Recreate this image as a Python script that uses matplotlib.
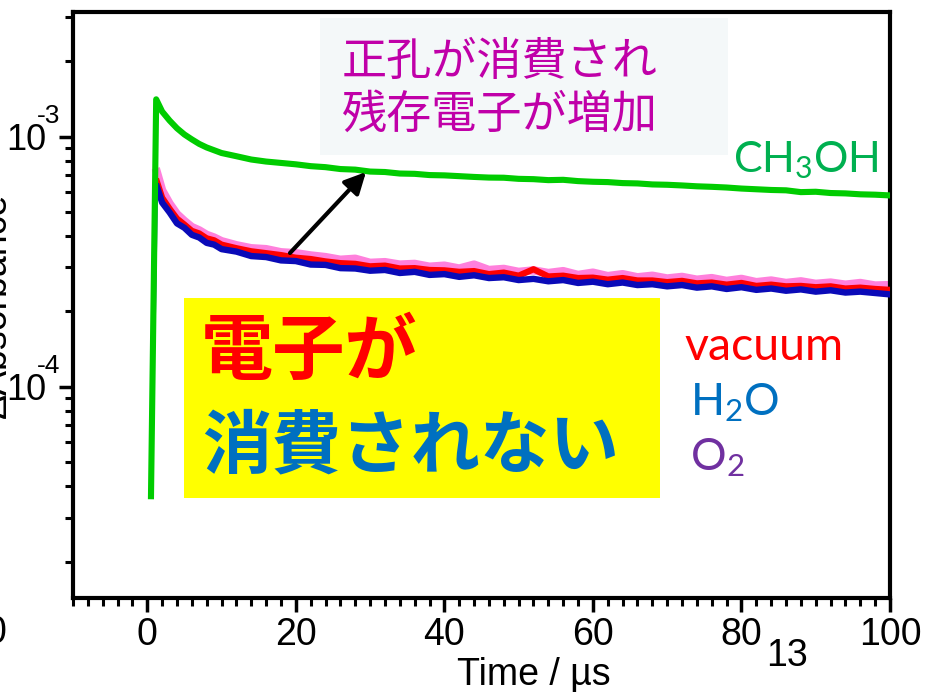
import matplotlib
matplotlib.use("Agg")
import matplotlib.pyplot as plt
from matplotlib.patches import Rectangle
from matplotlib.ticker import MultipleLocator, FixedLocator, NullFormatter, LogLocator
from matplotlib.transforms import blended_transform_factory, ScaledTranslation
import numpy as np

# ---------------- data (absorbance in units of 1e-4) ----------------
t_ch3oh = [0.5, 1.2, 2, 3, 4, 5, 6, 7, 8, 10, 12, 14, 16, 18, 20, 22, 24, 26, 28, 30,
           32, 34, 36, 38, 40, 42, 44, 46, 48, 50, 52, 54, 56, 58, 60, 62, 64, 66, 68, 70,
           72, 74, 76, 78, 80, 82, 84, 86, 88, 90, 92, 94, 96, 98, 100]
ch3oh = [0.365, 14.1, 12.6, 11.6, 10.8, 10.2, 9.75, 9.35, 9.05, 8.6, 8.35, 8.1, 7.95, 7.85, 7.75, 7.62, 7.55, 7.42, 7.38, 7.25,
         7.22, 7.12, 7.1, 7.02, 7.0, 6.95, 6.9, 6.86, 6.85, 6.78, 6.76, 6.7, 6.72, 6.64, 6.6, 6.58, 6.52, 6.5, 6.44, 6.42,
         6.38, 6.33, 6.3, 6.26, 6.2, 6.16, 6.12, 6.1, 6.0, 6.02, 5.95, 5.93, 5.88, 5.86, 5.82]

t_main = [1.0, 1.3, 2, 3, 4, 5, 6, 7, 8, 9,
          10, 12, 14, 16, 18, 20, 22, 24, 26, 28,
          30, 32, 34, 36, 38, 40, 42, 44, 46, 48,
          50, 52, 54, 56, 58, 60, 62, 64, 66, 68,
          70, 72, 74, 76, 78, 80, 82, 84, 86, 88,
          90, 92, 94, 96, 98, 100]
h2o = [1.75, 6.3, 5.45, 4.98, 4.5, 4.32, 4.05, 3.95, 3.76, 3.7,
       3.55, 3.47, 3.33, 3.3, 3.2, 3.18, 3.08, 3.07, 2.98, 2.97,
       2.91, 2.93, 2.85, 2.88, 2.8, 2.82, 2.75, 2.79, 2.72, 2.74,
       2.67, 2.7, 2.64, 2.67, 2.6, 2.63, 2.57, 2.61, 2.55, 2.57,
       2.52, 2.55, 2.49, 2.52, 2.46, 2.5, 2.44, 2.47, 2.42, 2.45,
       2.4, 2.43, 2.38, 2.4, 2.37, 2.34]
vacuum = [6.6, 6.6, 5.7, 5.15, 4.7, 4.45, 4.2, 4.1, 3.92, 3.85,
          3.7, 3.58, 3.48, 3.42, 3.36, 3.28, 3.24, 3.17, 3.12, 3.1,
          3.03, 3.05, 2.97, 2.98, 2.93, 2.92, 2.88, 2.9, 2.82, 2.86,
          2.78, 2.95, 2.76, 2.78, 2.72, 2.73, 2.68, 2.72, 2.66, 2.66,
          2.62, 2.65, 2.59, 2.61, 2.56, 2.6, 2.53, 2.56, 2.52, 2.53,
          2.5, 2.52, 2.47, 2.49, 2.46, 2.44]
o2 = [7.2, 7.2, 6.1, 5.4, 4.9, 4.6, 4.35, 4.22, 4.05, 3.95,
      3.82, 3.68, 3.58, 3.55, 3.45, 3.42, 3.35, 3.3, 3.22, 3.25,
      3.13, 3.15, 3.08, 3.1, 3.02, 3.05, 2.97, 3.08, 2.93, 2.96,
      2.88, 2.92, 2.85, 2.9, 2.8, 2.86, 2.77, 2.82, 2.74, 2.78,
      2.71, 2.75, 2.68, 2.72, 2.65, 2.7, 2.62, 2.66, 2.6, 2.64,
      2.58, 2.61, 2.56, 2.6, 2.54, 2.55]

x_ticks = [0, 20, 40, 60, 80, 100]
y_major = [1e-4, 1e-3]
y_exponents = ['-4', '-3']

W, H = 925, 692
def px(x, y):
    return (x / W, 1 - y / H)

narrow = ['Liberation Sans Narrow', 'Liberation Sans', 'DejaVu Sans']
latin = ['Lato', 'DejaVu Sans']
cjk = ['Noto Sans CJK JP', 'DejaVu Sans']

plt.rcParams['mathtext.fontset'] = 'custom'

fig = plt.figure(figsize=(W / 100, H / 100), dpi=100)
ax = fig.add_axes([73 / W, 1 - 598 / H, (890 - 73) / W, (598 - 12) / H])

scale = 1e-4
tm = np.array(t_main)
ax.plot(tm[1:], np.array(o2[1:]) * scale, color='#ff80dc', lw=6.0, zorder=2)
ax.plot(tm[1:], np.array(vacuum[1:]) * scale, color='#ff0000', lw=4.5, zorder=3)
ax.plot(tm[:2], np.array(h2o[:2]) * scale, color='#3020c0', lw=1.6, zorder=3)
ax.plot(tm[1:], np.array(h2o[1:]) * scale, color='#0a0ab8', lw=4.6, zorder=4)
ax.plot(t_ch3oh, np.array(ch3oh) * scale, color='#00cc00', lw=4.4, zorder=5)

ax.set_yscale('log')
ax.set_xlim(-10, 100)
ax.set_ylim(1.43e-5, 3.15e-3)

for s in ax.spines.values():
    s.set_linewidth(3)
ax.xaxis.set_major_locator(FixedLocator(x_ticks))
ax.xaxis.set_minor_locator(MultipleLocator(2))
ax.yaxis.set_major_locator(FixedLocator(y_major))
ax.yaxis.set_minor_locator(LogLocator(base=10, subs=np.arange(2, 10)))
ax.yaxis.set_minor_formatter(NullFormatter())
ax.yaxis.set_major_formatter(NullFormatter())
ax.tick_params(which='major', direction='out', length=10, width=2.5, pad=4,
               labelsize=27)
ax.tick_params(which='minor', direction='out', length=6, width=2.2)
for lab in ax.get_xticklabels():
    lab.set_family(narrow)

# y tick labels: "10" with raised exponent
btr = blended_transform_factory(fig.transFigure, ax.transData)
for v, e in zip(y_major, y_exponents):
    ax.text(46 / W, v, '10', transform=btr + ScaledTranslation(0, -3 / 72, fig.dpi_scale_trans),
            ha='right', va='center', family=narrow, fontsize=26, clip_on=False)
    ax.text(37 / W, v, e, transform=btr + ScaledTranslation(0, 15 / 72, fig.dpi_scale_trans),
            ha='left', va='center', family=narrow, fontsize=19, clip_on=False)

ax.set_xlabel('Time / µs', family=narrow, fontsize=27)
ax.xaxis.set_label_coords((534 - 73) / 817, (598 - 685) / 586)
ax.xaxis.label.set_va('baseline')

# y label (cut off at the left edge)
fig.text(*px(14, 305), 'ΔAbsorbance', rotation=90, ha='right', va='center',
         family=narrow, fontsize=27)
fig.text(*px(6, 633), '0', ha='right', va='center', family=narrow, fontsize=27)
fig.text(*px(787, 656), '13', ha='center', va='center', family=narrow, fontsize=27)

# boxes
fig.patches.append(Rectangle(px(320, 155), 408 / W, 137 / H, transform=fig.transFigure,
                             facecolor='#f4f8f9', edgecolor='none', zorder=1))
fig.patches.append(Rectangle(px(184, 498), 476 / W, 200 / H, transform=fig.transFigure,
                             facecolor='#ffff00', edgecolor='none', zorder=6))

fig.text(*px(342, 62), '正孔が消費され', color='#c000a8', family=cjk, fontsize=32.5,
         ha='left', va='center', zorder=7)
fig.text(*px(342, 115), '残存電子が増加', color='#c000a8', family=cjk, fontsize=32.5,
         ha='left', va='center', zorder=7)

fig.text(*px(201, 353), '電子が', color='#ff0000', family=cjk, fontsize=52,
         fontweight='bold', ha='left', va='center', zorder=7)
fig.text(*px(202, 447), '消費されない', color='#0070c0', family=cjk, fontsize=50,
         fontweight='bold', ha='left', va='center', zorder=7)

fig.text(*px(733, 160), r'CH$\mathregular{_3}$OH', color='#00b050', family=latin,
         fontsize=31, ha='left', va='center', zorder=7)
fig.text(*px(684, 347), 'vacuum', color='#ff0000', family=latin, fontsize=33.5,
         ha='left', va='center', zorder=7)
fig.text(*px(690, 403), r'H$\mathregular{_2}$O', color='#0070c0', family=latin,
         fontsize=32, ha='left', va='center', zorder=7)
fig.text(*px(690, 458), r'O$\mathregular{_2}$', color='#7030a0', family=latin,
         fontsize=32, ha='left', va='center', zorder=7)

ax.annotate('', xy=px(366, 172), xycoords='figure fraction',
            xytext=px(290, 253), textcoords='figure fraction',
            arrowprops=dict(arrowstyle='-|>', color='black', lw=3,
                            mutation_scale=32, shrinkA=0, shrinkB=0),
            zorder=8)

fig.savefig('out.png', dpi=100)
